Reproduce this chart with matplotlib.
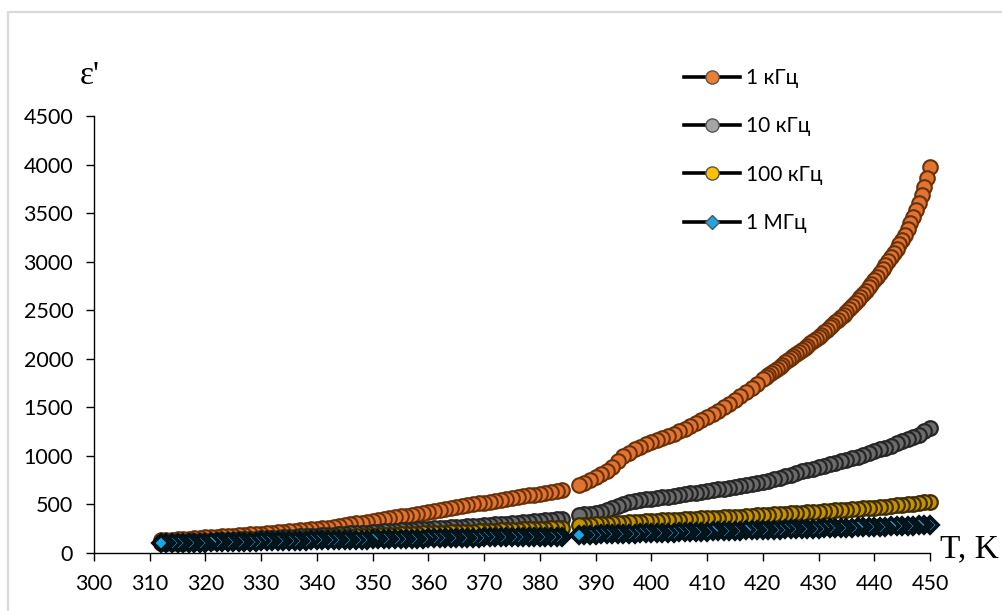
import numpy as np
import matplotlib
matplotlib.use("Agg")
import matplotlib.pyplot as plt
from matplotlib.lines import Line2D
from matplotlib.patches import Rectangle

# temperature grid of the two measurement runs (K)
temps_low = np.arange(312, 385)
temps_high = np.arange(387, 451)
# the 1 kHz curve is read at a finer step above 420 K where it rises fast
temps_1k = np.concatenate([temps_low, np.arange(387, 420), np.arange(420, 450.5, 0.5)])
temps = np.concatenate([temps_low, temps_high])

# epsilon' at 1 kHz
eps_1k = [
    130, 133, 137, 141, 145, 149, 153, 158, 162, 165,
    169, 172, 176, 180, 184, 188, 192, 196, 200, 204,
    209, 213, 218, 222, 227, 232, 237, 243, 248, 255,
    262, 270, 278, 286, 295, 304, 313, 322, 331, 340,
    350, 359, 368, 377, 386, 395, 405, 414, 423, 432,
    441, 451, 460, 470, 480, 490, 500, 510, 520, 529,
    538, 547, 556, 566, 575, 584, 593, 602, 611, 620,
    630, 639, 648,
    700, 725, 752, 780, 810, 845, 890, 945, 995, 1035,
    1068, 1095, 1120, 1145, 1163, 1182, 1202, 1228, 1254, 1281,
    1309, 1337, 1366, 1398, 1431, 1465, 1500, 1535, 1572, 1613,
    1656, 1700, 1745,
    1790, 1812, 1835, 1857, 1878, 1899, 1920, 1941, 1962, 1983,
    2005, 2026, 2048, 2070, 2092, 2114, 2136, 2158, 2181, 2204,
    2227, 2250, 2274, 2298, 2323, 2348, 2374, 2400, 2427, 2455,
    2483, 2512, 2542, 2573, 2604, 2636, 2669, 2703, 2737, 2772,
    2808, 2845, 2883, 2922, 2962, 3003, 3045, 3088, 3133, 3179,
    3226, 3280, 3340, 3400, 3460, 3528, 3600, 3683, 3770, 3865,
    3970,
]

# epsilon' at 10 kHz
eps_10k = [
    110, 112, 114, 116, 118, 120, 121, 123, 125, 127,
    130, 132, 135, 137, 140, 142, 145, 147, 150, 153,
    156, 159, 162, 165, 168, 171, 174, 177, 180, 183,
    187, 190, 194, 197, 201, 204, 208, 211, 215, 218,
    222, 225, 229, 232, 236, 239, 243, 246, 250, 253,
    257, 260, 264, 267, 271, 274, 278, 281, 285, 290,
    294, 299, 303, 308, 312, 316, 321, 325, 330, 335,
    341, 346, 352,
    390, 397, 405, 414, 425, 444, 465, 485, 505, 523,
    540, 548, 554, 560, 567, 573, 580, 588, 597, 605,
    613, 622, 630, 638, 647, 655, 663, 672, 680, 690,
    700, 710, 721, 733, 745, 760, 775, 790, 807, 823,
    840, 855, 870, 885, 900, 915, 930, 945, 960, 975,
    993, 1012, 1030, 1048, 1067, 1085, 1107, 1128, 1150, 1173,
    1197, 1220, 1252, 1284,
]

# epsilon' at 100 kHz
eps_100k = [
    100, 102, 104, 106, 108, 109, 111, 113, 115, 117,
    119, 121, 123, 125, 127, 129, 131, 133, 135, 137,
    139, 141, 143, 145, 147, 149, 151, 153, 155, 158,
    160, 163, 165, 168, 170, 173, 175, 178, 180, 183,
    185, 188, 190, 193, 195, 198, 200, 203, 205, 207,
    209, 211, 213, 215, 217, 219, 221, 223, 225, 228,
    230, 233, 235, 238, 240, 243, 245, 248, 250, 252,
    254, 256, 258,
    285, 288, 292, 295, 298, 302, 305, 309, 312, 316,
    319, 323, 326, 330, 333, 336, 339, 342, 345, 348,
    351, 354, 357, 360, 363, 365, 368, 370, 373, 376,
    380, 383, 387, 390, 394, 397, 401, 404, 408, 411,
    415, 418, 422, 425, 429, 434, 438, 443, 447, 451,
    455, 460, 464, 468, 473, 479, 484, 490, 495, 502,
    508, 515, 521, 528,
]

# epsilon' at 1 MHz
eps_1M = [
    100, 101, 102, 103, 104, 105, 106, 107, 108, 109,
    110, 111, 113, 114, 115, 116, 117, 118, 120, 121,
    122, 123, 124, 125, 126, 127, 128, 129, 130, 131,
    132, 133, 134, 135, 136, 137, 138, 139, 140, 141,
    142, 143, 144, 145, 146, 147, 148, 149, 150, 151,
    152, 153, 154, 155, 156, 157, 158, 159, 160, 161,
    161, 162, 163, 164, 164, 165, 166, 166, 167, 168,
    168, 169, 170,
    185, 187, 188, 190, 191, 193, 194, 196, 197, 199,
    200, 202, 203, 205, 207, 208, 210, 211, 213, 214,
    216, 218, 219, 221, 222, 224, 226, 227, 229, 230,
    232, 234, 235, 237, 239, 240, 242, 243, 245, 246,
    248, 249, 251, 252, 254, 256, 257, 259, 260, 262,
    263, 265, 266, 268, 270, 272, 274, 276, 278, 280,
    282, 284, 286, 288,
]

labels = ["1 кГц", "10 кГц", "100 кГц", "1 МГц"]
x_ticks = list(range(300, 451, 10))
y_ticks = list(range(0, 4501, 500))

plt.rcParams["font.family"] = ["Lato", "Open Sans", "DejaVu Sans"]

fig = plt.figure(figsize=(10.03, 6.11), dpi=100)
ax = fig.add_axes([0.0937, 0.0949, 0.8335, 0.7152])

# light frame around the chart area
fig.patches.append(Rectangle((8 / 1003, -0.2), 1.2, 0.2 + (611 - 12) / 611,
                             transform=fig.transFigure, fill=False,
                             edgecolor="#d9d9d9", linewidth=1.6))

# marker colours in the plot are shaded darker than the legend swatches
styles = [
    dict(marker="o", ms=10.5, face="#E07430", edge="#6a3008", ew=1.5, key="#ED7D31"),
    dict(marker="o", ms=10.5, face="#6c6c6c", edge="#262626", ew=1.6, key="#A5A5A5"),
    dict(marker="o", ms=10.5, face="#C49300", edge="#3d2d00", ew=1.6, key="#FFC000"),
    dict(marker="D", ms=8, face="#1EA6E4", edge="#021219", ew=2.7, key="#1EA6E4"),
]
series = [(temps_1k, eps_1k), (temps, eps_10k), (temps, eps_100k), (temps, eps_1M)]

handles = []
for (t, vals), st in zip(series, styles):
    v = np.asarray(vals)
    # measured while cooling: draw from the hot end so low-T points sit on top
    ax.plot(t[::-1], v[::-1], linestyle="none", marker=st["marker"],
            ms=st["ms"], mfc=st["face"], mec=st["edge"], mew=st["ew"],
            clip_on=False)
    handles.append(Line2D([], [], color="black", lw=2.6, marker=st["marker"],
                          ms=9.5 if st["marker"] == "o" else 7,
                          mfc=st["key"], mec="#555555", mew=1.0))

ax.set_xlim(300, 450)
ax.set_ylim(0, 4500)
ax.set_xticks(x_ticks)
ax.set_yticks(y_ticks)
for s in ("top", "right"):
    ax.spines[s].set_visible(False)
for s in ("left", "bottom"):
    ax.spines[s].set_linewidth(1.0)
    ax.spines[s].set_color("black")
ax.tick_params(axis="both", direction="out", length=6, width=1.0,
               labelsize=15.5, colors="black")
ax.tick_params(axis="y", pad=9)
ax.tick_params(axis="x", pad=9)

leg = ax.legend(handles, labels, loc="upper left",
                bbox_to_anchor=(684 / 1003, 1 - 68 / 611),
                bbox_transform=fig.transFigure, frameon=False,
                fontsize=15, handlelength=2.7, handletextpad=0.3,
                labelspacing=1.36, borderpad=0, borderaxespad=0)

fig.text(80 / 1003, 1 - 84 / 611, "ε'", family="Liberation Serif",
         fontsize=24, va="baseline", ha="left")
fig.text(940 / 1003, 1 - 557 / 611, "T, K", family="Liberation Serif",
         fontsize=24, va="baseline", ha="left")

fig.savefig("out.png", dpi=100)
